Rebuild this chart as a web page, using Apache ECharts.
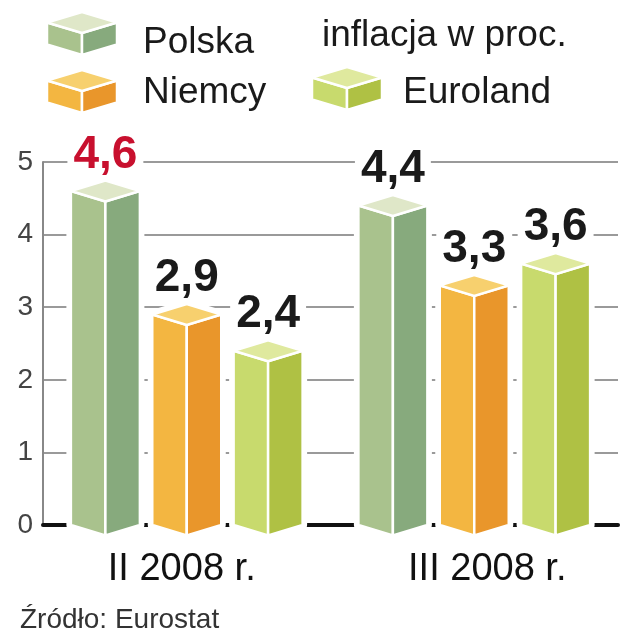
<!DOCTYPE html>
<html>
<head>
<meta charset="utf-8">
<script src="https://cdn.jsdelivr.net/npm/echarts@6/dist/echarts.min.js"></script>
<style>
html, body { margin: 0; padding: 0; background: #fff; }
#chart { width: 643px; height: 640px; }
</style>
</head>
<body>
<div id="chart"></div>
<script>
const categories = ['II 2008 r.', 'III 2008 r.']
const seriesNames = ['Polska', 'Niemcy', 'Euroland']
const polska = [4.6, 4.4]
const niemcy = [2.9, 3.3]
const euroland = [2.4, 3.6]
const yMin = 0
const yMax = 5
const yStep = 1

const FONT = "'Liberation Sans', Arial, sans-serif"
// kolory scian: lewa, prawa, gora
const faces = [
    { left: '#a9c28d', right: '#87aa7d', top: '#dfe7c8' },
    { left: '#f3b641', right: '#e9962b', top: '#f7d06e' },
    { left: '#c8da6d', right: '#afc144', top: '#dfe99e' }
]

function cube(cx, yTop, yBase, w, d, c, halo, z) {
    const L = cx - w / 2, R = cx + w / 2
    const parts = []
    if (halo) {
        parts.push({
            type: 'polygon',
            shape: { points: [[L, yTop], [cx, yTop - d], [R, yTop], [R, yBase], [cx, yBase + d], [L, yBase]] },
            style: { fill: '#fff', stroke: '#fff', lineWidth: 9, lineJoin: 'round' }
        })
    }
    parts.push(
        {
            type: 'polygon',
            shape: { points: [[L, yTop], [cx, yTop + d], [cx, yBase + d], [L, yBase]] },
            style: { fill: c.left, stroke: '#fff', lineWidth: 2.5 }
        },
        {
            type: 'polygon',
            shape: { points: [[cx, yTop + d], [R, yTop], [R, yBase], [cx, yBase + d]] },
            style: { fill: c.right, stroke: '#fff', lineWidth: 2.5 }
        },
        {
            type: 'polygon',
            shape: { points: [[L, yTop], [cx, yTop - d], [R, yTop], [cx, yTop + d]] },
            style: { fill: c.top, stroke: '#fff', lineWidth: 2.5 }
        }
    )
    if (z != null) parts.forEach(p => { p.z = z })
    return parts
}

function renderBar(params, api) {
    const si = params.seriesIndex
    const cat = api.value(0)
    const val = api.value(1)
    const band = api.size([1, 0])[0]
    const w = band * 0.24
    const d = w * 0.152
    const base = api.coord([cat, 0])
    const top = api.coord([cat, val])
    const cx = base[0] + (si - 1) * band * 0.283
    const red = si === 0 && params.dataIndex === 0
    const children = cube(cx, top[1], base[1], w, d, faces[si], true)
    children.push({
        type: 'text',
        x: cx,
        y: top[1] - 13,
        style: {
            text: String(val).replace('.', ','),
            fill: red ? '#c8102e' : '#1a1a1a',
            font: 'bold 46px ' + FONT,
            align: 'center',
            verticalAlign: 'bottom',
            backgroundColor: '#fff',
            padding: [0, 6]
        }
    })
    return { type: 'group', children }
}

const values = [polska, niemcy, euroland]
const series = seriesNames.map((name, i) => ({
    name,
    type: 'custom',
    renderItem: renderBar,
    encode: { x: 0, y: 1 },
    data: values[i].map((v, j) => [j, v]),
    z: 3
}))

// miejsce na ikone jest puste, kostki rysuje graphic nizej
const legendPos = [
    { left: 47, top: 21, width: 91 },
    { left: 47, top: 71, width: 91 },
    { left: 312, top: 71, width: 86 }
]
const legend = seriesNames.map((name, i) => ({
    orient: 'horizontal',
    padding: 0,
    left: legendPos[i].left,
    top: legendPos[i].top,
    itemWidth: legendPos[i].width,
    itemHeight: 43,
    selectedMode: false,
    textStyle: { fontSize: 37, color: '#1a1a1a', fontFamily: FONT },
    data: [{ name, icon: 'rect', itemStyle: { color: 'rgba(0,0,0,0)' } }]
}))

// cieniowane kostki legendy
const legendCubes = [[47, 12], [47, 70], [312, 67]]
const graphic = legendCubes.map(([x, y], i) => ({
    type: 'group',
    children: cube(x + 35, y + 10.5, y + 32.5, 70, 10.5, faces[i], false, 100)
}))

const chart = echarts.init(document.getElementById('chart'))
chart.setOption({
    backgroundColor: '#fff',
    animation: false,
    title: [
        {
            text: 'inflacja w proc.',
            left: 322,
            top: 17,
            padding: 0,
            textStyle: { fontSize: 37, fontWeight: 'normal', color: '#1a1a1a', fontFamily: FONT }
        },
        {
            text: 'Źródło: Eurostat',
            left: 20,
            top: 606,
            padding: 0,
            textStyle: { fontSize: 28, fontWeight: 'normal', color: '#333', fontFamily: FONT }
        }
    ],
    legend,
    graphic,
    grid: { left: 43, right: 25, top: 162, bottom: 115, containLabel: false },
    xAxis: {
        type: 'category',
        data: categories,
        axisTick: { show: false },
        axisLine: { lineStyle: { color: '#111', width: 4 } },
        axisLabel: {
            margin: 26,
            formatter: (v, i) => i === 0 ? '{a|' + v + '}' : '{b|' + v + '}',
            rich: {
                a: { fontSize: 38, color: '#111', fontFamily: FONT, padding: [0, 10, 0, 0] },
                b: { fontSize: 38, color: '#111', fontFamily: FONT, padding: [0, 0, 0, 26] }
            }
        }
    },
    yAxis: {
        type: 'value',
        min: yMin,
        max: yMax,
        interval: yStep,
        axisLine: { show: true, lineStyle: { color: '#888', width: 2 } },
        axisTick: { show: false },
        splitLine: { lineStyle: { color: '#9a9a9a', width: 2 } },
        axisLabel: { fontSize: 28, color: '#444', margin: 10, fontFamily: FONT }
    },
    series
})
</script>
</body>
</html>
